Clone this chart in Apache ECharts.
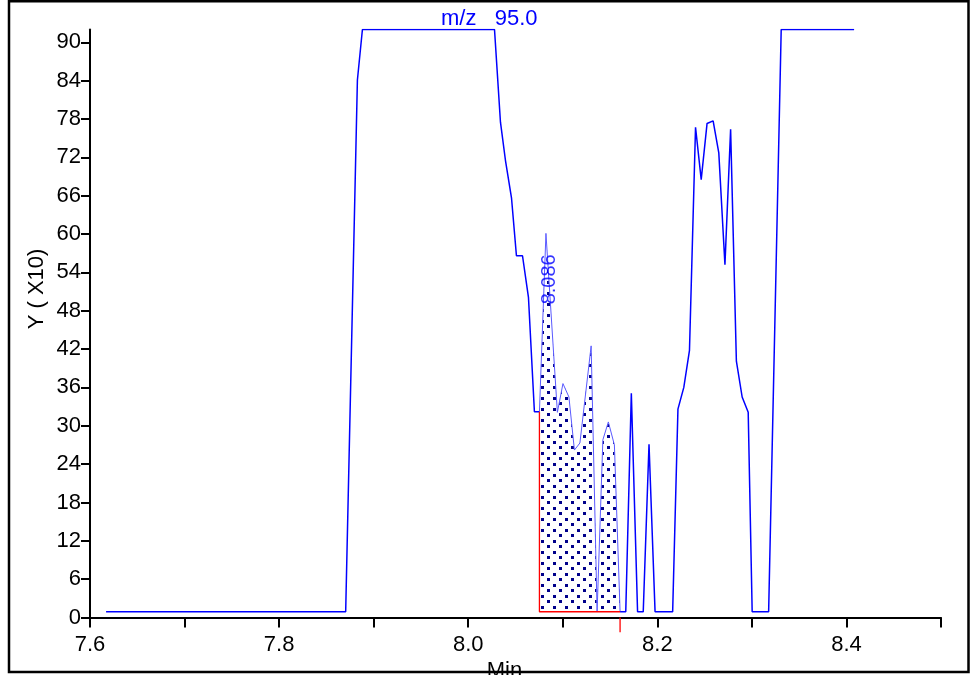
<!DOCTYPE html>
<html><head><meta charset="utf-8">
<script src="https://cdn.jsdelivr.net/npm/echarts@6/dist/echarts.min.js"></script>
<style>html,body{margin:0;padding:0;background:#fff}#c{width:971px;height:675px}</style>
</head><body><div id="c"></div>
<script>
// ---- data ----
const times = [7.617, 7.8704, 7.8828, 7.8881, 8.0278, 8.0341, 8.0394, 8.0458, 8.0510, 8.0574, 8.0637, 8.0700, 8.0753,
  8.0822, 8.0943, 8.1002, 8.1065, 8.1123, 8.1181, 8.1300, 8.1363, 8.1424, 8.1482, 8.1546, 8.1606,
  8.1666, 8.1725, 8.1791, 8.1851, 8.1912, 8.1976, 8.2162, 8.2218, 8.2280, 8.2340, 8.2404, 8.2464, 8.2526, 8.2590,
  8.2650, 8.2715, 8.2775, 8.2836, 8.2897, 8.2961, 8.3003, 8.3177, 8.3310, 8.4081];
const values = [0.9, 0.9, 84.1, 92, 92, 77.5, 71.5, 65.6, 56.6, 56.6, 50.1, 32.2, 32.2,
  60.1, 32.1, 36.6, 34.5, 26.2, 27.3, 42.5, 0.9, 27.8, 30.6, 27.0, 0.9,
  0.9, 35.1, 0.9, 0.9, 27.1, 0.9, 0.9, 32.6, 36.0, 41.8, 76.7, 68.5, 77.3, 77.7,
  72.7, 55.2, 76.4, 40.1, 34.5, 32.1, 0.9, 0.9, 92, 92];
const peakStart = 8.0753;
const peakEnd = 8.1606;
const peakBaseline = 0.9;
const peakLabel = '8.086';
const peakLabelTime = 8.086;
const peakLabelValue = 49.0;
const xTickLabels = ['7.6', '7.8', '8.0', '8.2', '8.4'];
const yTicks = [0, 6, 12, 18, 24, 30, 36, 42, 48, 54, 60, 66, 72, 78, 84, 90];
const titleText = 'm/z   95.0';
const xName = 'Min';
const yName = 'Y ( X10)';

// ---- build ----
const pts = times.map((t, i) => [t, values[i]]);
const leftPart = pts.filter(p => p[0] <= peakStart);
const peakPart = pts.filter(p => p[0] >= peakStart && p[0] <= peakEnd);
const rightPart = pts.filter(p => p[0] >= peakEnd);
const startVal = values[times.indexOf(peakStart)];

const pc = document.createElement('canvas');
pc.width = 12; pc.height = 11;
const g = pc.getContext('2d');
g.fillStyle = '#00008B';
g.fillRect(1, 1, 3, 3);
g.fillRect(7, 6, 3, 3);

const FONT = "'Liberation Sans', Arial, sans-serif";
const chart = echarts.init(document.getElementById('c'), null, {renderer: 'canvas'});
chart.setOption({
  animation: false,
  backgroundColor: '#fff',
  title: {
    text: titleText, left: 436, top: 3,
    textStyle: {color: '#0000FF', fontSize: 22, fontWeight: 'normal', fontFamily: FONT}
  },
  grid: {left: 90, right: 30, top: 29.5, bottom: 57.5, containLabel: false, outerBoundsMode: 'none'},
  xAxis: {
    type: 'value', min: 7.6, max: 8.5, interval: 0.1,
    name: xName, nameLocation: 'middle', nameGap: 37,
    nameTextStyle: {color: '#000', fontSize: 22, fontFamily: FONT, padding: [0, 22, 0, 0]},
    axisLine: {show: true, onZero: false, lineStyle: {color: '#000', width: 2}},
    axisTick: {show: true, length: 10, lineStyle: {color: '#000', width: 2}},
    axisLabel: {
      color: '#000', fontSize: 22, fontFamily: FONT, margin: 16,
      formatter: v => { const s = v.toFixed(1); return xTickLabels.indexOf(s) >= 0 ? s : ''; }
    },
    splitLine: {show: false}
  },
  yAxis: {
    type: 'value', min: 0, max: 92,
    axisLine: {show: true, onZero: false, lineStyle: {color: '#000', width: 2}},
    axisTick: {show: true, length: 9, customValues: yTicks, lineStyle: {color: '#000', width: 2}},
    axisLabel: {color: '#000', fontSize: 22, fontFamily: FONT, margin: 9, customValues: yTicks, padding: [8, 0, 0, 0]},
    splitLine: {show: false}
  },
  graphic: [
    {type: 'rect', shape: {x: 9, y: 1.2, width: 959.5, height: 670.8}, style: {fill: 'none', stroke: '#000', lineWidth: 2.5}, z: 100},
    {type: 'text', x: 37, y: 289, rotation: Math.PI / 2,
     style: {text: yName, fill: '#000', fontSize: 22, fontFamily: FONT, textAlign: 'center', textVerticalAlign: 'middle'}}
  ],
  series: [
    {type: 'line', data: peakPart, symbol: 'none', z: 2,
     lineStyle: {color: '#5a5aff', width: 1},
     areaStyle: {color: {image: pc, repeat: 'repeat'}, opacity: 1, origin: peakBaseline}},
    {type: 'line', data: leftPart, symbol: 'none', z: 3, lineStyle: {color: '#0000FF', width: 1.5}},
    {type: 'line', data: rightPart, symbol: 'none', z: 3, lineStyle: {color: '#0000FF', width: 1.5}},
    {type: 'line', data: [[peakStart, startVal], [peakStart, peakBaseline], [peakEnd, peakBaseline]],
     symbol: 'none', z: 4, lineStyle: {color: '#FF0000', width: 1.3}},
    {type: 'line', data: [[peakEnd, 0], [peakEnd, -2.3]], clip: false,
     symbol: 'none', z: 4, lineStyle: {color: '#FF0000', width: 1.3}},
    {type: 'scatter', data: [[peakLabelTime, peakLabelValue]], symbolSize: 0, z: 5,
     label: {show: true, formatter: peakLabel, position: 'inside', rotate: 90, align: 'left', verticalAlign: 'middle',
             color: '#0000FF', fontSize: 20, fontFamily: FONT}}
  ]
});
</script></body></html>
